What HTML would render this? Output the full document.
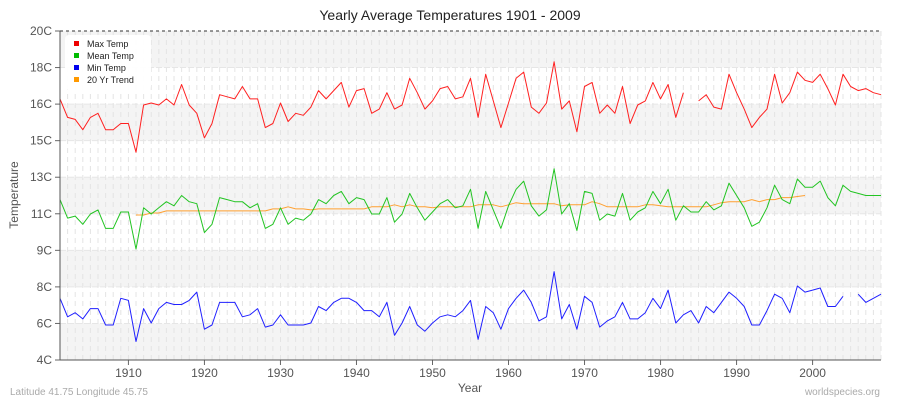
<!DOCTYPE html>
<html><head><meta charset="utf-8"><style>
body{margin:0;background:#fff;font-family:"Liberation Sans",sans-serif}
svg text{font-family:"Liberation Sans",sans-serif}
</style></head><body>
<svg width="900" height="400" viewBox="0 0 900 400">
<g id="bg"></g><g id="grid"></g><g id="series"></g><g id="axes"></g>
<text x="450" y="20" text-anchor="middle" font-size="14" fill="#222">Yearly Average Temperatures 1901 - 2009</text>
<text x="470" y="392" text-anchor="middle" font-size="12" fill="#555">Year</text>
<text x="18" y="195" text-anchor="middle" font-size="12" fill="#555" transform="rotate(-90 18 195)">Temperature</text>
<text x="10" y="395" font-size="10" fill="#aaa">Latitude 41.75 Longitude 45.75</text>
<text x="880" y="395" text-anchor="end" font-size="10" fill="#aaa">worldspecies.org</text>
<g>
<rect x="65" y="35" width="86" height="55" rx="4" fill="#fff" opacity="0.95"/>
<rect x="74" y="41" width="5" height="5" fill="#ee0000"/><text x="87" y="47" font-size="9" fill="#222">Max Temp</text>
<rect x="74" y="53" width="5" height="5" fill="#00bb00"/><text x="87" y="59" font-size="9" fill="#222">Mean Temp</text>
<rect x="74" y="65" width="5" height="5" fill="#0000ee"/><text x="87" y="71" font-size="9" fill="#222">Min Temp</text>
<rect x="74" y="77" width="5" height="5" fill="#ff9900"/><text x="87" y="83" font-size="9" fill="#222">20 Yr Trend</text>
</g>
</svg>
<script>
const startYear=1901;
const maxTemp=[16.7,15.8,15.7,15.2,15.8,16.0,15.2,15.2,15.5,15.5,14.1,16.4,16.5,16.4,16.7,16.4,17.4,16.4,16.0,14.8,15.5,16.9,16.8,16.7,17.3,16.7,16.7,15.3,15.5,16.5,15.6,16.0,15.9,16.3,17.1,16.7,17.1,17.5,16.3,17.1,17.2,16.0,16.2,17.0,16.2,16.4,17.7,17.0,16.2,16.6,17.2,17.3,16.7,16.8,17.7,15.8,17.9,16.6,15.3,16.5,17.7,18.0,16.3,16.0,16.5,18.5,16.2,16.6,15.1,17.3,17.5,16.0,16.4,16.0,17.3,15.5,16.4,16.6,17.5,16.7,17.4,15.8,17.0,null,16.6,16.9,16.3,16.2,17.9,17.0,16.2,15.3,15.8,16.2,17.9,16.5,17.0,18.0,17.6,17.5,17.9,17.2,16.4,17.9,17.3,17.1,17.2,17.0,16.9];
const meanTemp=[11.8,10.9,11.0,10.6,11.1,11.3,10.4,10.4,11.2,11.2,9.4,11.4,11.1,11.4,11.7,11.5,12.0,11.7,11.6,10.2,10.6,11.9,11.8,11.7,11.7,11.4,11.6,10.4,10.6,11.4,10.6,10.9,10.8,11.1,11.8,11.6,12.0,12.2,11.6,11.9,11.8,11.1,11.1,11.9,10.7,11.1,12.1,11.4,10.8,11.2,11.6,11.8,11.4,11.5,12.3,10.4,12.2,11.3,10.4,11.5,12.3,12.7,11.5,11.0,11.3,13.3,11.1,11.6,10.3,12.2,12.1,10.8,11.1,11.0,12.1,10.8,11.2,11.4,12.2,11.6,12.3,10.8,11.5,11.2,11.2,11.7,11.3,11.5,12.6,12.0,11.4,10.5,10.7,11.4,12.5,11.8,11.6,12.8,12.4,12.4,12.7,11.9,11.5,12.5,12.2,12.1,12.0,12.0,12.0];
const minTemp=[7.0,6.1,6.3,6.0,6.5,6.5,5.7,5.7,7.0,6.9,4.9,6.5,5.8,6.5,6.8,6.7,6.7,6.9,7.3,5.5,5.7,6.8,6.8,6.8,6.1,6.2,6.5,5.6,5.7,6.2,5.7,5.7,5.7,5.8,6.6,6.4,6.8,7.0,7.0,6.8,6.4,6.4,6.1,6.8,5.2,5.8,6.6,5.7,5.4,5.8,6.1,6.2,6.1,6.4,6.9,5.0,6.6,6.3,5.5,6.5,7.0,7.4,6.8,5.9,6.1,8.3,6.0,6.7,5.5,7.1,6.8,5.6,5.9,6.1,6.8,6.0,6.0,6.3,7.0,6.5,7.4,5.8,6.2,6.4,5.8,6.6,6.3,6.8,7.3,7.0,6.6,5.7,5.7,6.4,7.2,7.0,6.3,7.6,7.3,7.4,7.5,6.6,6.6,7.1,null,7.2,6.8,7.0,7.2];
const trendStart=1911;
const trend=[11.05,11.05,11.15,11.15,11.25,11.25,11.25,11.25,11.25,11.25,11.25,11.25,11.25,11.25,11.25,11.25,11.25,11.25,11.35,11.35,11.45,11.35,11.35,11.3,11.35,11.35,11.35,11.35,11.35,11.35,11.35,11.45,11.45,11.45,11.55,11.45,11.55,11.45,11.45,11.4,11.45,11.45,11.45,11.45,11.45,11.55,11.55,11.55,11.45,11.55,11.65,11.6,11.6,11.6,11.6,11.6,11.5,11.55,11.55,11.55,11.7,11.6,11.45,11.45,11.45,11.45,11.45,11.55,11.55,11.5,11.45,11.45,11.45,11.45,11.45,11.45,11.55,11.65,11.7,11.7,11.7,11.8,11.7,11.8,11.8,11.9,11.9,11.95,12.0];
const yTickLabels=["4C","6C","8C","9C","11C","13C","15C","16C","18C","20C"];
const xTickYears=[1910,1920,1930,1940,1950,1960,1970,1980,1990,2000];

const X0=60,X1=881,Y0=360,Y1=31,YMIN=4,YMAX=20;
const xs=y=>X0+(y-1901)*(X1-X0)/108;
const ys=t=>Y0-(t-YMIN)*(Y0-Y1)/(YMAX-YMIN);
const NS="http://www.w3.org/2000/svg";
function mk(tag,attrs,parent){const e=document.createElementNS(NS,tag);for(const k in attrs)e.setAttribute(k,attrs[k]);parent.appendChild(e);return e;}
const bg=document.getElementById('bg'),grid=document.getElementById('grid'),ser=document.getElementById('series'),ax=document.getElementById('axes');
const step=(Y0-Y1)/9;
for(let i=0;i<9;i++){
 const top=Y0-(i+1)*step;
 const r=mk('rect',{x:X0,y:top,width:X1-X0,height:step,fill:(i%2===0)?'#f4f4f4':'#fff'},bg);
 
 
}
for(let y=1901;y<=2009;y++){
 const l=mk('line',{x1:xs(y),x2:xs(y),y1:Y1,y2:Y0,stroke:'#e4e4e4','stroke-width':1,'stroke-dasharray':'5,4'},grid);
 
 
}
yTickLabels.forEach((lab,i)=>{
 const y=Y0-i*step;
 const g=mk('line',{x1:X0,x2:X1,y1:y,y2:y,stroke:i===9?'#333':'#e6e6e6','stroke-width':1,'stroke-dasharray':i===9?'3,3':'6,2'},grid);
 
 
 const t=mk('line',{x1:X0-5,x2:X0,y1:y,y2:y,stroke:'#666'},ax);
 
 
 const tx=mk('text',{x:X0-8,y:y+4,'text-anchor':'end','font-size':12,fill:'#555'},ax);
 tx.textContent=lab;
 
 
});
xTickYears.forEach(yr=>{
 const t=mk('line',{x1:xs(yr),x2:xs(yr),y1:Y0,y2:Y0+5,stroke:'#666'},ax);
 
 
 const tx=mk('text',{x:xs(yr),y:Y0+17,'text-anchor':'middle','font-size':12,fill:'#555'},ax);
 tx.textContent=yr;
 
 
});
const la=mk('line',{x1:X0,x2:X0,y1:Y1,y2:Y0,stroke:'#555'},ax);


const lb=mk('line',{x1:X0,x2:X1,y1:Y0,y2:Y0,stroke:'#555'},ax);


function drawSeries(vals,start,color,name){
 let d='',pen=false;
 vals.forEach((v,i)=>{
  if(v===null){pen=false;return;}
  d+=(pen?'L':'M')+xs(start+i).toFixed(1)+' '+ys(v).toFixed(1)+' ';pen=true;
 });
 const p=mk('path',{d:d,fill:'none',stroke:color,'stroke-width':1,'stroke-linejoin':'round'},ser);
 
 
}
drawSeries(trend,trendStart,'#ffa030','trend-line');
drawSeries(maxTemp,startYear,'#ff2020','max-temp-line');
drawSeries(meanTemp,startYear,'#22c422','mean-temp-line');
drawSeries(minTemp,startYear,'#2020ff','min-temp-line');
</script>
</body></html>
